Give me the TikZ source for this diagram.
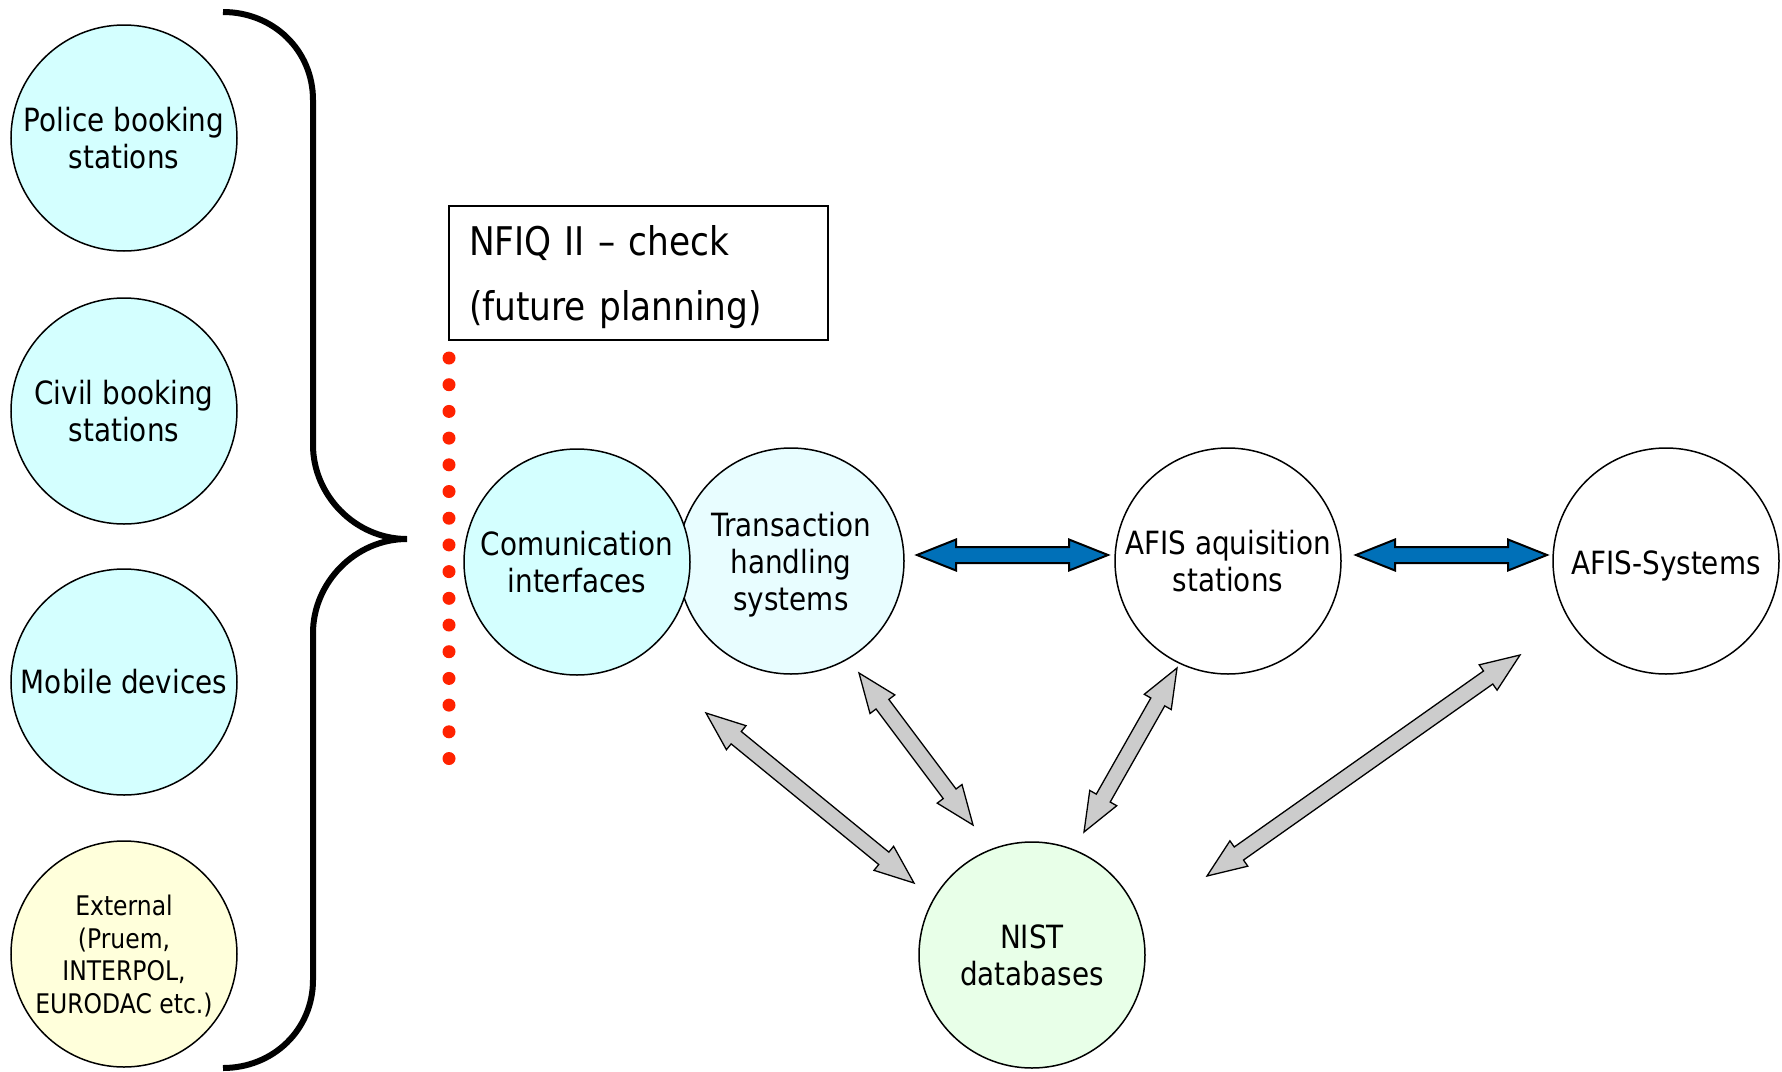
\documentclass[tikz,border=0pt]{standalone}
\usepackage{fontspec}
\setmainfont{DejaVu Sans}[FakeStretch=0.87]
\usetikzlibrary{calc}
\definecolor{cyanfill}{HTML}{D4FFFF}
\definecolor{transfill}{HTML}{E8FDFF}
\definecolor{extfill}{HTML}{FFFFDB}
\definecolor{nistfill}{HTML}{E8FFE8}
\definecolor{bluearrow}{HTML}{0070B8}
\definecolor{grayarrow}{HTML}{CCCCCC}
\definecolor{reddot}{HTML}{FF2200}
\newcommand{\mainsz}{\fontsize{32}{37}\selectfont}
\newcommand{\extsz}{\fontsize{27}{32.5}\selectfont}
\newcommand{\nfiqsz}{\fontsize{39.5}{65}\selectfont}
% fat double arrow between two named coordinates
\newcommand{\fatarrow}[3]{%
  \draw[#3] let \p1=($(#2)-(#1)$), \n1={atan2(\y1,\x1)} in
    (#1)
    -- ($(#1)+(\n1:39pt)+(\n1+90:15.5pt)$)
    -- ($(#1)+(\n1:39pt)+(\n1+90:8pt)$)
    -- ($(#2)+(\n1+180:39pt)+(\n1+90:8pt)$)
    -- ($(#2)+(\n1+180:39pt)+(\n1+90:15.5pt)$)
    -- (#2)
    -- ($(#2)+(\n1+180:39pt)+(\n1-90:15.5pt)$)
    -- ($(#2)+(\n1+180:39pt)+(\n1-90:8pt)$)
    -- ($(#1)+(\n1:39pt)+(\n1-90:8pt)$)
    -- ($(#1)+(\n1:39pt)+(\n1-90:15.5pt)$)
    -- cycle;}
\begin{document}
\begin{tikzpicture}[x=1pt,y=-1pt,
  circ/.style={circle, draw, line width=1.5pt, minimum size=226pt, inner sep=0pt, align=center, font=\mainsz},
  bluefat/.style={draw, line width=2pt, fill=bluearrow, line join=miter},
  grayfat/.style={draw, line width=1.3pt, fill=grayarrow, line join=miter},
  bracestyle/.style={line width=6pt},
  dotstyle/.style={fill=reddot}]
\fill[white] (0,0) rectangle (1782,1071);
\useasboundingbox (0,0) rectangle (1782,1071);

% left sources
\node[circ, fill=cyanfill] (police) at (124,138) {Police booking\\stations};
\node[circ, fill=cyanfill] (civil) at (124,411) {Civil booking\\stations};
\node[circ, fill=cyanfill] (mobile) at (124,682) {Mobile devices};
\node[circ, fill=extfill, font=\extsz, text depth=0pt] (external) at (124,954) {External\\(Pruem,\\INTERPOL,\\EURODAC etc.)};

% brace
\draw[bracestyle] (223,12) .. controls (273,12) and (313,50) .. (313,100)
  -- (313,445) .. controls (313,495) and (355,539) .. (407,539)
  .. controls (355,539) and (313,583) .. (313,633)
  -- (313,980) .. controls (313,1030) and (273,1068) .. (223,1068);

% NFIQ box and its text
\node[draw, line width=1.5pt, minimum width=379pt, minimum height=134pt] (nfiq) at (638.5,273) {};
\node[text width=339pt, inner sep=0pt, align=left, font=\nfiqsz, yshift=-4.5pt] (nfiqtext) at (nfiq.center)
  {NFIQ II – check\\(future planning)};

% red dotted line
\foreach \i in {0,...,15}
  \fill[dotstyle] (449,{358+26.7*\i}) circle (6.5pt);

% central nodes
\node[circ, fill=transfill, text depth=0pt] (trans) at (791,561) {Transaction\\handling\\systems};
\node[circ, fill=cyanfill] (comm) at (577,562) {Comunication\\interfaces};
\node[circ, fill=white] (acq) at (1228,561) {AFIS aquisition\\stations};
\node[circ, fill=white, text height=26pt, text depth=0pt] (afis) at (1666,561) {AFIS-Systems};
\node[circ, fill=nistfill] (nist) at (1032,955) {NIST\\databases};

% arrow end points
\coordinate (b1a) at (917,555);
\coordinate (b1b) at (1108,555);
\coordinate (b2a) at (1356,555);
\coordinate (b2b) at (1547,555);
\coordinate (g1a) at (706,713);
\coordinate (g1b) at (914,883);
\coordinate (g2a) at (859,673);
\coordinate (g2b) at (973,825);
\coordinate (g3a) at (1177,668);
\coordinate (g3b) at (1084,832);
\coordinate (g4a) at (1520,655);
\coordinate (g4b) at (1207,876);

\fatarrow{b1a}{b1b}{bluefat}
\fatarrow{b2a}{b2b}{bluefat}
\fatarrow{g1a}{g1b}{grayfat}
\fatarrow{g2a}{g2b}{grayfat}
\fatarrow{g3a}{g3b}{grayfat}
\fatarrow{g4a}{g4b}{grayfat}
\end{tikzpicture}
\end{document}
